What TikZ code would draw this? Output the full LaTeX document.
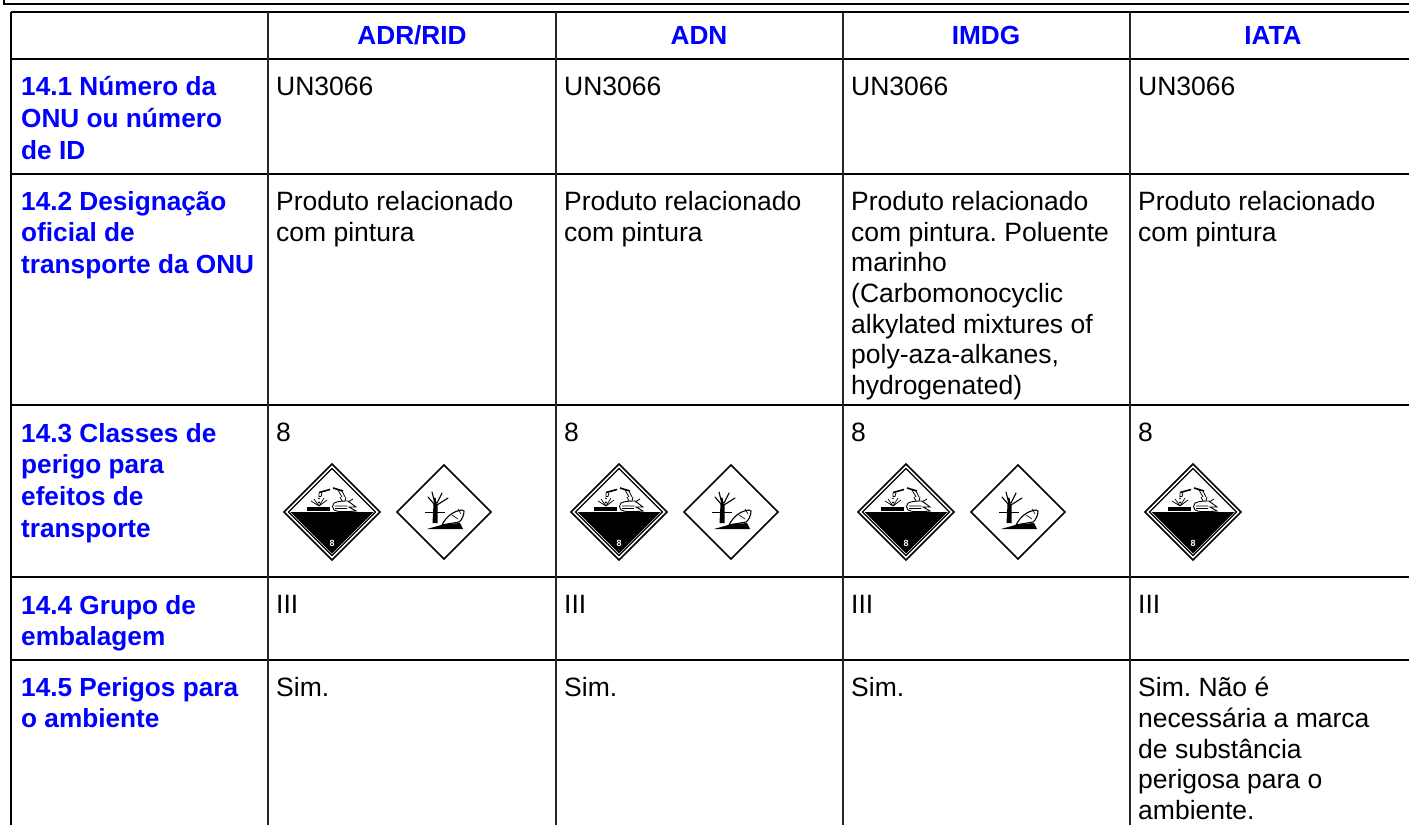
\documentclass[tikz,border=0pt]{standalone}
\usepackage{fontspec}
\setmainfont{Liberation Sans}
\frenchspacing
\definecolor{headblue}{RGB}{0,0,255}
\tikzset{
  x=1bp,y=-1bp,
  rule/.style={draw=black,line width=2.4bp},
  colrule/.style={draw=black!85,line width=1.4bp},
  bodytext/.style={anchor=north west,inner sep=0pt,align=left,font=\fontsize{26.5bp}{30.7bp}\selectfont,text=black},
  headtext/.style={anchor=north west,inner sep=0pt,align=left,font=\fontsize{26.2bp}{31.8bp}\selectfont\bfseries,text=headblue},
  coltitle/.style={anchor=base,inner sep=0pt,font=\fontsize{26.2bp}{31.6bp}\selectfont\bfseries,text=headblue},
  pics/corrosive/.style={code={
    \draw[line width=1.6bp,fill=white,line join=miter] (-48,0)--(0,-48)--(48,0)--(0,48)--cycle;
    \fill (-41.5,0)--(41.5,0)--(0,41.5)--cycle;
    \draw[line width=1.3bp,line join=miter] (-43.5,0)--(0,-43.5)--(43.5,0)--(0,43.5)--cycle;
    \node[inner sep=0pt,text=white,font=\fontsize{9bp}{10bp}\selectfont\bfseries] at (0,31) {8};
    \fill (-25,-5.5) rectangle (-2,-1);
    \draw[line width=1.6bp] (-13,-19.5)--(-2,-22.5);
    \draw[line width=.8bp] (-13,-19)--(-13,-15.5)--(-11,-15.5)--(-10,-19.5);
    \draw[line width=1.6bp] (1,-24)--(11,-21);
    \draw[line width=.8bp] (6,-22)--(10,-15) (10,-21)--(13,-15);
    \fill (-13,-13.5) circle (.9) (-13,-9.5) circle (1.2);
    \draw[line width=.7bp] (-13,-6)--(-21,-11) (-13,-6)--(-18,-13) (-13,-6)--(-8,-14) (-13,-6)--(-5,-12);
    \draw[line width=.9bp,fill=white] (2,-9) .. controls (6,-11) and (12,-11) .. (16,-11) -- (24,-5) -- (17,-5) -- (24,-1) .. controls (14,0) and (5,0) .. (2,-2) .. controls (0,-4) and (0,-7) .. (2,-9) -- cycle;
    \draw[line width=.8bp] (3,-6)--(15,-6) (3,-3.5)--(15,-3.5) (10,-11)--(8,-15) (13,-11)--(14,-15) (16,-10)--(21,-13);
  }},
  pics/environment/.style={code={
    \draw[line width=1.5bp,fill=white,line join=miter] (-47,0)--(0,-47)--(47,0)--(0,47)--cycle;
    \draw[line width=.9bp] (-19,0)--(1,0);
    \fill (-11.5,11)--(-10.5,-8)--(-6.5,-8)--(-6.5,11)--cycle;
    \draw[line width=1.1bp,line cap=round] (-12,-20)--(-9,-8) (-16,-15)--(-10,-8) (-2,-19)--(-7,-9) (4,-14)--(-7,-7) (-9,-14)--(-8,-8);
    \fill (-17,17) .. controls (-10,15) and (-6,14) .. (-1,12.5) -- (16,11) -- (19,17) -- cycle;
    \draw[line width=1.1bp,fill=white] (-2,13) .. controls (2,5) and (9,-1) .. (18,-2) -- (20,-1) .. controls (20,3) and (18,8) .. (15,10) .. controls (10,11) and (5,11.5) .. (-2,13) -- cycle;
    \draw[line width=.6bp] (14,-3)--(17,2) (8,3)--(14,7);
  }}
}
\begin{document}
\begin{tikzpicture}
\useasboundingbox (0,0) rectangle (1409,825);
\fill[white] (0,0) rectangle (1409,825);
% outer frame
\coordinate (fa) at (4,0); \coordinate (fb) at (4,4); \coordinate (fc) at (1409,4);
\draw[rule] (fa)--(fb)--(fc);
% table lines
\foreach \n/\y in {r0/12,r1/59,r2/174,r3/405,r4/577,r5/660}{
  \coordinate (\n l) at (11,\y); \coordinate (\n r) at (1409,\y);
  \draw[rule] (\n l)--(\n r);
}
\coordinate (lb) at (11,825);
\draw[rule] (r0l)--(lb);
\foreach \n/\x in {c1/268,c2/556,c3/843,c4/1130}{
  \coordinate (\n t) at (\x,12); \coordinate (\n b) at (\x,825);
  \draw[colrule] (\n t)--(\n b);
}
% column titles
\node[coltitle] (t1) at (412,44) {ADR/RID};
\node[coltitle] (t2) at (699,44) {ADN};
\node[coltitle] (t3) at (986,44) {IMDG};
\node[coltitle] (t4) at (1273,44) {IATA};
% row titles
\node[headtext] (h1) at (21,76) {14.1 Número da\\ONU ou número\\de ID};
\node[headtext] (h2) at (21,191) {14.2 Designação\\oficial de\\transporte da ONU};
\node[headtext] (h3) at (21,423) {14.3 Classes de\\perigo para\\efeitos de\\transporte};
\node[headtext] (h4) at (21,595) {14.4 Grupo de\\embalagem};
\node[headtext] (h5) at (21,677) {14.5 Perigos para\\o ambiente};
% body
\foreach \k/\x in {a/276,b/564,c/851,d/1138}{
  \node[bodytext] (un\k) at (\x,77) {UN3066};
  \node[bodytext] (cl\k) at (\x,423) {8};
  \node[bodytext] (pg\k) at (\x,595) {III};
}
\node[bodytext] (da) at (276,191) {Produto relacionado\\com pintura};
\node[bodytext] (db) at (564,191) {Produto relacionado\\com pintura};
\node[bodytext] (dc) at (851,191) {Produto relacionado\\com pintura. Poluente\\marinho\\(Carbomonocyclic\\alkylated mixtures of\\poly-aza-alkanes,\\hydrogenated)};
\node[bodytext] (dd) at (1138,191) {Produto relacionado\\com pintura};
\node[bodytext] (ea) at (276,677) {Sim.};
\node[bodytext] (eb) at (564,677) {Sim.};
\node[bodytext] (ec) at (851,677) {Sim.};
\node[bodytext] (ed) at (1138,677) {Sim. Não é\\necessária a marca\\de substância\\perigosa para o\\ambiente.};
% pictograms
\pic at (332,512) {corrosive};
\pic at (444,512) {environment};
\pic at (619,512) {corrosive};
\pic at (731,512) {environment};
\pic at (906,512) {corrosive};
\pic at (1018,512) {environment};
\pic at (1193,512) {corrosive};
\end{tikzpicture}
\end{document}
